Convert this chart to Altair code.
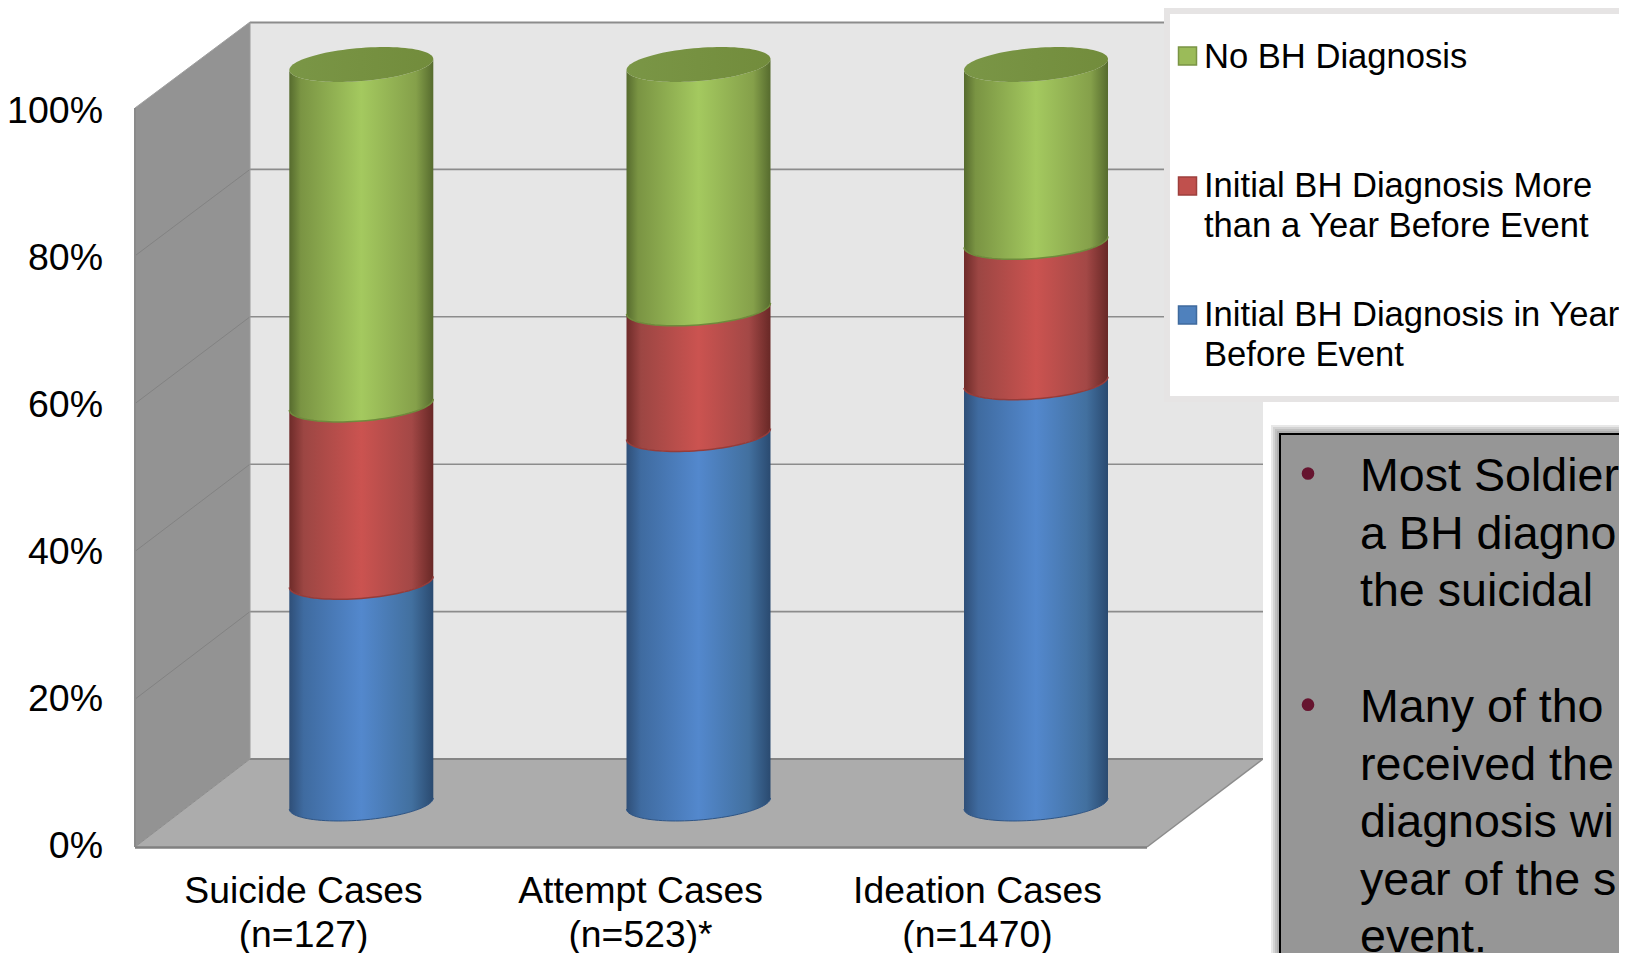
import math
import altair as alt
import pandas as pd

# ---- values ----
categories = ["Suicide Cases", "Attempt Cases", "Ideation Cases"]
counts = ["(n=127)", "(n=523)*", "(n=1470)"]
series_blue = [30, 50, 57]      # Initial BH Diagnosis in Year Before Event
series_red = [24, 17, 19]       # Initial BH Diagnosis More than a Year Before Event
series_green = [46, 33, 24]     # No BH Diagnosis
y_ticks = [0, 20, 40, 60, 80, 100]
grid_ticks = [20, 40, 60, 80]
legend_lines = [
    ("No BH Diagnosis", 68), ("Initial BH Diagnosis More", 197),
    ("than a Year Before Event", 237), ("Initial BH Diagnosis in Year", 326),
    ("Before Event", 366),
]
box_lines = [
    ("Most Soldier", 491), ("a BH diagno", 548.7), ("the suicidal", 606.4),
    ("Many of tho", 722), ("received the", 779.7), ("diagnosis wi", 837.3),
    ("year of the s", 895), ("event.", 951.5),
]

# ---- scene layout (page pixels) ----
W, H = 1611, 945
FRONT0, FRONT100 = 847.0, 108.0
PX = (FRONT0 - FRONT100) / 100.0
BACK0, BACK100 = 759.0, 22.0
BPX = (BACK0 - BACK100) / 100.0
DEPTH_MID = 43.5
XL, XB, XR, XFR = 135.0, 250.0, 1263.0, 1147.0
CENTERS = [361.3, 698.5, 1036.0]
RX, RY, TILT = 72.0, 16.6, -0.0764


def pct(py):
    return (FRONT0 - py) / PX


x_scale = alt.Scale(domain=[8, 1619], nice=False, zero=False)
y_scale = alt.Scale(domain=[pct(953), pct(8)], nice=False, zero=False)
X = alt.X("x:Q", scale=x_scale, axis=None)
X2 = alt.X2("x2:Q")
Y = alt.Y("y:Q", scale=y_scale, axis=None)
Y2 = alt.Y2("y2:Q")


def rect(x, x2, py, py2, **kw):
    d = pd.DataFrame({"x": [x], "x2": [x2], "y": [pct(py)], "y2": [pct(py2)]})
    return alt.Chart(d).mark_rect(**kw).encode(x=X, x2=X2, y=Y, y2=Y2)


def seg(points, **kw):
    d = pd.DataFrame([{"x": p[0], "y": pct(p[1]), "i": i} for i, p in enumerate(points)])
    return alt.Chart(d).mark_line(**kw).encode(x=X, y=Y, order="i:Q")


def grad(stops):
    return alt.Gradient(
        gradient="linear", x1=0, x2=1, y1=0, y2=0,
        stops=[alt.GradientStop(offset=o, color=c) for o, c in stops],
    )


GREEN = grad([(0, "#566b2e"), (0.08, "#7a9443"), (0.5, "#a4c95f"), (0.88, "#85a04a"), (1, "#566b2e")])
RED = grad([(0, "#6e2b29"), (0.1, "#9c4643"), (0.5, "#cb5350"), (0.85, "#a34846"), (1, "#682826")])
BLUE = grad([(0, "#2f4f78"), (0.1, "#3f6ba0"), (0.5, "#5388cd"), (0.85, "#42709f"), (1, "#2a4a70")])

layers = []

# walls and floor
d = pd.DataFrame({"x": [XL, XB], "y": [pct(FRONT100), pct(22)], "y2": [pct(FRONT0), pct(759)]})
layers.append(rect(XB, XR, 22, 759, fill="#e6e6e6"))
layers.append(alt.Chart(d).mark_area(color="#939393").encode(x=X, y=Y, y2=Y2))
d = pd.DataFrame({"y": [pct(FRONT0), pct(759)], "x": [XL, XB], "x2": [XFR, XR]})
layers.append(alt.Chart(d).mark_area(color="#acacac", orient="horizontal").encode(x=X, x2=X2, y=Y))

# gridlines
for t in grid_ticks:
    back = BACK0 - t * BPX
    front = FRONT0 - t * PX
    layers.append(seg([(XB, back), (XR, back)], color="#8c8c8c", strokeWidth=1.6))
    layers.append(seg([(XL, front), (XB, back)], color="#828282", strokeWidth=1))
layers.append(seg([(XB, 22.5), (XR, 22.5)], color="#8c8c8c", strokeWidth=2))
layers.append(seg([(XB, 759), (XR, 759)], color="#858585", strokeWidth=2))
layers.append(seg([(XL, 847), (XB, 759)], color="#8c8c8c", strokeWidth=1))
layers.append(seg([(XL, 108), (XB, 22)], color="#a0a0a0", strokeWidth=1))
layers.append(seg([(XFR, 847), (XR, 759)], color="#8c8c8c", strokeWidth=1.5))
layers.append(seg([(XL, FRONT0 + 0.5), (XFR, FRONT0 + 0.5)], color="#808080", strokeWidth=2.5))
d = pd.DataFrame({"x": [XL], "y": [pct(108)], "y2": [pct(847)]})
layers.append(alt.Chart(d).mark_rule(color="#8a8a8a", strokeWidth=2).encode(x=X, y=Y, y2=Y2))
layers.append(alt.Chart(pd.DataFrame({"x": [XB], "y": [pct(22)], "y2": [pct(759)]}))
              .mark_rule(color="#9a9a9a", strokeWidth=1).encode(x=X, y=Y, y2=Y2))

# cylinders
us = [-math.cos(math.pi * i / 48) for i in range(49)]


def lower(cx, v):
    yc = FRONT0 - DEPTH_MID - v * PX
    return [(cx + u * RX, yc + TILT * u * RX + RY * math.sqrt(max(0, 1 - u * u))) for u in us]


def upper(cx, v):
    yc = FRONT0 - DEPTH_MID - v * PX
    return [(cx + u * RX, yc + TILT * u * RX - RY * math.sqrt(max(0, 1 - u * u))) for u in us]


def band(cx, v0, v1, fill):
    lo, hi = lower(cx, v0), lower(cx, v1)
    d = pd.DataFrame({"x": [p[0] for p in lo], "y": [pct(p[1]) for p in hi], "y2": [pct(p[1]) for p in lo]})
    return alt.Chart(d).mark_area(color=fill).encode(x=X, y=Y, y2=Y2)


for cx, b, r, g in zip(CENTERS, series_blue, series_red, series_green):
    top = b + r + g
    layers.append(band(cx, 0, b, BLUE))
    layers.append(band(cx, b, b + r, RED))
    layers.append(band(cx, b + r, top, GREEN))
    layers.append(seg(lower(cx, 0), color="#2f5585", strokeWidth=1))
    layers.append(seg(lower(cx, b), color="#953c3a", strokeWidth=1.5))
    layers.append(seg(lower(cx, b + r), color="#6f8a3c", strokeWidth=1.5))
    up, lo = upper(cx, top), lower(cx, top)
    d = pd.DataFrame({"x": [p[0] for p in lo], "y": [pct(p[1]) for p in up], "y2": [pct(p[1]) for p in lo]})
    layers.append(alt.Chart(d).mark_area(color=grad([(0, "#7a9646"), (1, "#728c3c")])).encode(x=X, y=Y, y2=Y2))

# y tick labels
tick_rows = [{"x": 103, "y": pct(858.3 - v * 7.356), "t": f"{v}%"} for v in y_ticks]
layers.append(
    alt.Chart(pd.DataFrame(tick_rows)).mark_text(
        font="Liberation Sans", fontSize=37.5, color="#000000", align="right", baseline="alphabetic"
    ).encode(x=X, y=Y, text="t:N")
)

# category labels
cat_rows = []
for c, n, cx in zip(categories, counts, [303.5, 640.5, 977.5]):
    cat_rows.append({"x": cx, "y": pct(902.5), "t": c})
    cat_rows.append({"x": cx, "y": pct(946.5), "t": n})
layers.append(
    alt.Chart(pd.DataFrame(cat_rows)).mark_text(
        font="Liberation Sans", fontSize=37.3, color="#000000", align="center", baseline="alphabetic"
    ).encode(x=X, y=Y, text="t:N")
)

# legend panel
layers.append(rect(1164, 1640, 8, 402, fill="#e6e4e4"))
layers.append(rect(1170, 1640, 14, 396, fill="#ffffff"))
layers.append(rect(1263, 1640, 402, 965, fill="#ffffff"))
for y0, fill, stroke in [(47, "#9bbb59", "#7a9444"), (177, "#c0504d", "#9d3f3c"), (306, "#4f81bd", "#3f6a9d")]:
    layers.append(rect(1178.5, 1196.5, y0, y0 + 18, fill=fill, stroke=stroke, strokeWidth=1.5))
layers.append(
    alt.Chart(pd.DataFrame([{"x": 1204, "y": pct(py), "t": t} for t, py in legend_lines])).mark_text(
        font="Liberation Sans", fontSize=34.6, color="#000000", align="left", baseline="alphabetic"
    ).encode(x=X, y=Y, text="t:N")
)

# annotation box
for k in [9, 7, 5, 3]:
    layers.append(rect(1280 - k, 1640, 434 - k, 965, fill="#000000", opacity=0.09))
layers.append(rect(1280, 1640, 434, 965, fill="#969696", stroke="#000000", strokeWidth=2))
layers.append(
    alt.Chart(pd.DataFrame({"x": [1308, 1308], "y": [pct(473.5), pct(704.7)]})).mark_point(
        filled=True, shape="circle", size=160, color="#66142f", opacity=1
    ).encode(x=X, y=Y)
)
layers.append(
    alt.Chart(pd.DataFrame([{"x": 1360, "y": pct(py), "t": t} for t, py in box_lines])).mark_text(
        font="Liberation Sans", fontSize=46.6, color="#000000", align="left", baseline="alphabetic"
    ).encode(x=X, y=Y, text="t:N")
)

chart = (
    alt.layer(*layers)
    .properties(width=W, height=H, padding=0, background="#ffffff",
                autosize=alt.AutoSizeParams(type="none"))
    .configure_view(stroke=None)
)
chart.save("out.html", embed_options={"renderer": "svg", "actions": False})
